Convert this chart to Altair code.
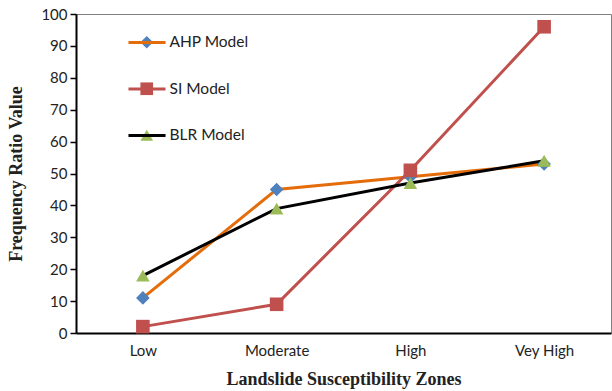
import altair as alt
import pandas as pd

zones = ["Low", "Moderate", "High", "Vey High"]
series = ["AHP Model", "SI Model", "BLR Model"]
ahp = [11, 45, 49, 53]
si = [2, 9, 51, 96]
blr = [18, 39, 47, 54]
line_colors = ["#E46C0A", "#C0504D", "#000000"]
marker_colors = ["#4F81BD", "#C0504D", "#9BBB59"]
shapes = ["diamond", "square", "triangle-up"]
y_ticks = list(range(0, 101, 10))

rows = []
for s, vals in zip(series, [ahp, si, blr]):
    for z, v in zip(zones, vals):
        rows.append({"zone": z, "value": v, "series": s, "order": series.index(s)})
df = pd.DataFrame(rows)

label_font = "Lato"
legend_common = dict(
    orient="none", legendX=63, legendY=20.5, title=None, padding=0,
    rowPadding=29.5, labelFont=label_font, labelFontSize=15.5, labelColor="#222",
    symbolSize=160, labelOffset=15, direction="vertical",
)

x = alt.X("zone:N", sort=zones, scale=alt.Scale(type="point", padding=0.5),
          axis=alt.Axis(title="Landslide Susceptibility Zones", labelAngle=0, ticks=False,
                        labelPadding=10, titlePadding=12))
y = alt.Y("value:Q", scale=alt.Scale(domain=[0, 100], nice=False),
          axis=alt.Axis(title="Frequency Ratio Value", values=y_ticks, grid=False,
                        tickSize=6, labelPadding=3, titlePadding=15))

lines = alt.Chart(df).mark_line(strokeWidth=3).encode(
    x=x, y=y,
    stroke=alt.Stroke("series:N", sort=series,
                      scale=alt.Scale(domain=series, range=line_colors),
                      legend=alt.Legend(symbolType="M-2.93,0H2.93", symbolStrokeWidth=3,
                                        labelOpacity=0, **legend_common)),
    detail="series:N",
    order="order:Q",
)

points = alt.Chart(df).mark_point(filled=True, size=185, opacity=1, strokeWidth=0).encode(
    x=x, y=y,
    fill=alt.Fill("series:N", sort=series,
                  scale=alt.Scale(domain=series, range=marker_colors),
                  legend=alt.Legend(symbolStrokeWidth=0, **legend_common)),
    shape=alt.Shape("series:N", sort=series,
                    scale=alt.Scale(domain=series, range=shapes),
                    legend=alt.Legend(symbolStrokeWidth=0, **legend_common)),
    order="order:Q",
)

chart = alt.layer(lines, points).resolve_legend(stroke="independent").properties(
    width=535, height=319,
    background="white",
    autosize=alt.AutoSizeParams(type="none"),
    padding={"left": 76, "top": 14, "right": 1, "bottom": 58},
).configure_view(stroke="#808080", strokeWidth=1).configure_axis(
    domainColor="#000", domainWidth=2, tickColor="#000", tickWidth=1.5,
    labelFont=label_font, labelFontSize=15, labelColor="#222",
    titleFont="Liberation Serif", titleFontSize=18, titleFontWeight="bold", titleColor="#222",
)

chart.save("out.html", embed_options={"renderer": "svg", "actions": False})
